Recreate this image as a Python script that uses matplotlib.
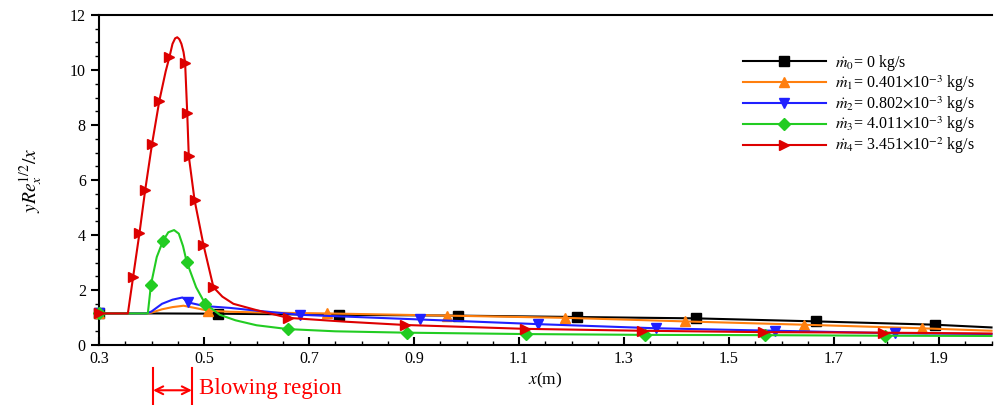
import matplotlib
matplotlib.use("Agg")
import matplotlib.pyplot as plt
from matplotlib.ticker import MultipleLocator
import matplotlib.transforms as mtransforms

plt.rcParams['font.family'] = ['Liberation Serif', 'DejaVu Serif']
plt.rcParams['mathtext.fontset'] = 'stix'

# ---- data ----
x0 = [0.30, 0.40, 0.527, 0.757, 0.984, 1.21, 1.438, 1.666, 1.892, 2.0]
y0 = [1.15, 1.15, 1.14, 1.10, 1.07, 1.02, 0.97, 0.86, 0.74, 0.64]
m0 = [0, 2, 3, 4, 5, 6, 7, 8]

x1 = [0.30, 0.39, 0.40, 0.42, 0.44, 0.461, 0.48, 0.508, 0.55, 0.62, 0.734,
      0.962, 1.188, 1.416, 1.642, 1.867, 2.0]
y1 = [1.15, 1.15, 1.18, 1.30, 1.38, 1.43, 1.36, 1.25, 1.21, 1.18, 1.15,
      1.07, 0.99, 0.86, 0.74, 0.61, 0.52]
m1 = [0, 7, 10, 11, 12, 13, 14, 15]

x2 = [0.30, 0.39, 0.40, 0.42, 0.44, 0.459, 0.47, 0.50, 0.55, 0.60, 0.683,
      0.911, 1.137, 1.361, 1.588, 1.816, 2.0]
y2 = [1.15, 1.15, 1.22, 1.50, 1.65, 1.73, 1.55, 1.42, 1.35, 1.25, 1.10,
      0.93, 0.76, 0.61, 0.52, 0.43, 0.40]
m2 = [0, 6, 10, 11, 12, 13, 14, 15]

x3 = [0.30, 0.393, 0.399, 0.41, 0.422, 0.432, 0.443, 0.452, 0.46, 0.467, 0.485,
      0.502, 0.53, 0.56, 0.60, 0.66, 0.75, 0.886, 1.113, 1.34, 1.569, 1.797, 2.0]
y3 = [1.15, 1.15, 2.2, 3.2, 3.79, 4.10, 4.18, 4.05, 3.6, 3.03, 2.1,
      1.51, 1.1, 0.9, 0.72, 0.58, 0.50, 0.45, 0.40, 0.37, 0.36, 0.34, 0.33]
m3 = [0, 2, 4, 9, 11, 15, 17, 18, 19, 20, 21]

x4 = [0.30, 0.355, 0.365, 0.377, 0.388, 0.401, 0.415, 0.427, 0.434, 0.440, 0.445,
      0.449, 0.453, 0.457, 0.461, 0.464, 0.468, 0.471, 0.482, 0.499, 0.518, 0.535,
      0.556, 0.60, 0.66, 0.769, 0.883, 1.111, 1.334, 1.565, 1.794, 2.0]
y4 = [1.15, 1.15, 2.48, 4.06, 5.64, 7.31, 8.89, 9.95, 10.46, 10.95, 11.15,
      11.19, 11.12, 10.95, 10.65, 10.27, 8.45, 6.87, 5.27, 3.64, 2.1, 1.76,
      1.5, 1.27, 0.99, 0.85, 0.73, 0.59, 0.52, 0.47, 0.45, 0.42]
m4 = [0, 2, 3, 4, 5, 6, 8, 15, 16, 17, 18, 19, 20, 24, 26, 27, 28, 29, 30]

labels = [r'$\dot{m}_0$= 0 kg/s',
          r'$\dot{m}_1$= 0.401$\times$10$^{-3}$ kg/s',
          r'$\dot{m}_2$= 0.802$\times$10$^{-3}$ kg/s',
          r'$\dot{m}_3$= 4.011$\times$10$^{-3}$ kg/s',
          r'$\dot{m}_4$= 3.451$\times$10$^{-2}$ kg/s']

blow_start, blow_end = 0.403, 0.477

# ---- figure ----
fig = plt.figure(figsize=(9.94, 4.05), dpi=100)
ax = fig.add_axes([0.0996, 0.148, 0.8979, 0.815])

series = [(x0, y0, m0, 'black', 's'),
          (x1, y1, m1, '#ff7f0e', '^'),
          (x2, y2, m2, '#2020ff', 'v'),
          (x3, y3, m3, '#22cc22', 'D'),
          (x4, y4, m4, '#dd0000', '>')]
for (xs, ys, mk, c, mar), lab in zip(series, labels):
    ms = 6 if mar == 'D' else 7
    ax.plot(xs, ys, color=c, lw=1.5, marker=mar, markevery=mk, ms=ms,
            label=lab, clip_on=False, zorder=3)

ax.set_xlim(0.3, 2.0)
ax.set_ylim(0, 12)
ax.xaxis.set_minor_locator(MultipleLocator(0.05))
ax.yaxis.set_major_locator(MultipleLocator(2))
ax.yaxis.set_minor_locator(MultipleLocator(0.5))
ax.set_xticks([0.3, 0.5, 0.7, 0.9, 1.1, 1.3, 1.5, 1.7, 1.9])
ax.set_xticklabels(['0.3', '0.5', '0.7', '0.9', '1.1', '1.3', '1.5', '1.7', '1.9'])
ax.tick_params(axis='x', which='major', direction='in', length=6, width=1.5, labelsize=11.5, pad=4)
ax.tick_params(axis='x', which='minor', direction='in', length=3, width=1)
ax.tick_params(axis='y', which='major', direction='out', length=6, width=1.5, labelsize=11.5)
ax.tick_params(axis='y', which='minor', direction='out', length=3, width=1)
for s in ['left', 'bottom', 'top']:
    ax.spines[s].set_linewidth(1.5)
ax.spines['right'].set_visible(False)

ax.set_xlabel(r'$x$(m)', fontsize=12.5, labelpad=3)
ax.set_ylabel(r'$yRe_x^{1/2}/x$', fontsize=14, labelpad=18)

leg = ax.legend(loc='upper left', bbox_to_anchor=(0.714, 0.905), frameon=False,
                fontsize=11.5, handlelength=5.2, labelspacing=0.02,
                handletextpad=0.6, borderaxespad=0)

# blowing region annotation
trans = mtransforms.blended_transform_factory(ax.transData, ax.transAxes)
for xv in (blow_start, blow_end):
    ax.plot([xv, xv], [-0.07, -0.19], color='red', lw=1.5, transform=trans, clip_on=False)
ax.annotate('', xy=(blow_start, -0.137), xytext=(blow_end, -0.137),
            xycoords=trans, textcoords=trans,
            arrowprops=dict(arrowstyle='<->', color='red', lw=1.5, shrinkA=0, shrinkB=0,
                            mutation_scale=14))
ax.text(0.49, -0.132, 'Blowing region', color='red', fontsize=16.5,
        transform=trans, va='center', ha='left')

fig.savefig('out.png', dpi=100)
